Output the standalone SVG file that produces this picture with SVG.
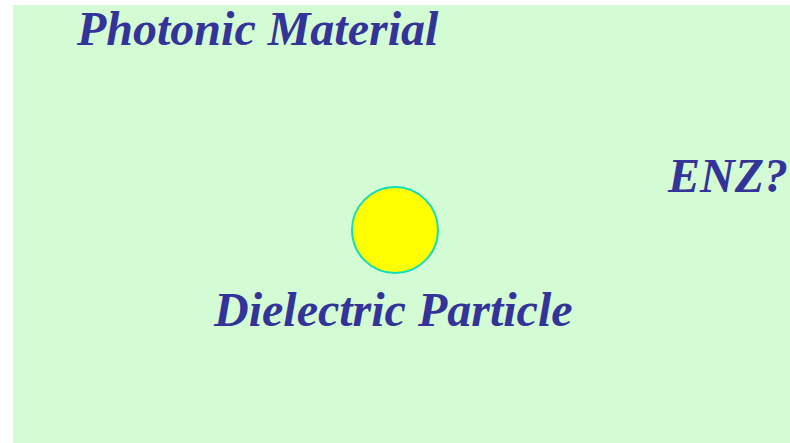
<svg xmlns="http://www.w3.org/2000/svg" width="790" height="443" viewBox="0 0 790 443">
<style>
.lbl{font-family:"Liberation Serif","Times New Roman",serif;font-weight:bold;font-style:italic;font-size:48px;fill:#333399}
</style>
<rect x="0" y="0" width="790" height="443" fill="#ffffff"/>
<rect id="bg" x="13" y="5" width="777" height="438" fill="#d4fcd4"/>
<g id="particle">
<circle cx="395" cy="230" r="43" fill="#ffff00" stroke="#11ddbb" stroke-width="2"/>
</g>
<g id="labels">
<text class="lbl" x="77" y="45">Photonic Material</text>
<text class="lbl" x="214" y="326">Dielectric Particle</text>
<text class="lbl" x="668" y="192">ENZ?</text>
</g>
<g id="connectors"></g>
</svg>
